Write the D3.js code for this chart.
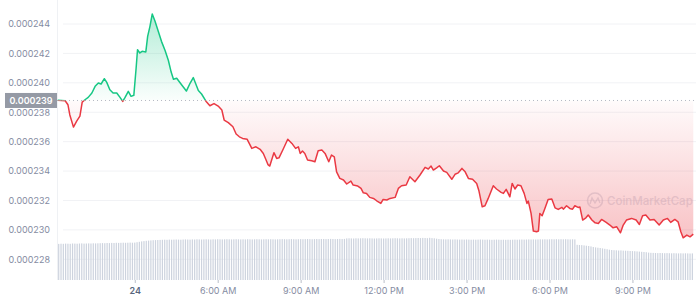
<!DOCTYPE html>
<html lang="en">
<head>
<meta charset="UTF-8">
<title>Price chart</title>
<script src="https://cdn.jsdelivr.net/npm/d3@7"></script>
<style>
  body { margin: 0; background: #fff; }
  svg { display: block; font-family: Inter, "Noto Sans", sans-serif; }
</style>
</head>
<body>
<script>

var w = 696, h = 300;

// price samples
var times = [
  "00:13","00:29","00:35","00:39","00:47","00:54","01:01","01:06","01:12","01:19",
  "01:27","01:34","01:41","01:47","01:54","01:59","02:06","02:13","02:21","02:28",
  "02:34","02:39","02:46","02:52","02:58","03:03","03:06","03:11","03:16","03:24",
  "03:28","03:33","03:38","03:44","03:51","03:58","04:06","04:13","04:19","04:24",
  "04:31","04:42","04:52","05:00","05:07","05:18","05:25","05:35","05:43","05:52",
  "06:01","06:09","06:14","06:23","06:33","06:40","06:47","06:54","07:04","07:14",
  "07:23","07:32","07:39","07:45","07:49","07:53","08:02","08:08","08:13","08:22",
  "08:32","08:41","08:49","08:55","08:59","09:04","09:09","09:15","09:24","09:31",
  "09:38","09:46","09:53","10:01","10:07","10:13","10:18","10:25","10:33","10:40",
  "10:49","10:54","11:04","11:11","11:16","11:23","11:30","11:38","11:45","11:54",
  "11:59","12:07","12:14","12:25","12:32","12:39","12:49","12:57","13:08","13:19",
  "13:30","13:37","13:43","13:48","13:55","14:01","14:10","14:17","14:28","14:35",
  "14:42","14:50","14:57","15:04","15:13","15:22","15:27","15:34","15:40","15:47",
  "15:58","16:05","16:15","16:20","16:26","16:34","16:39","16:45","16:51","16:58",
  "17:05","17:11","17:14","17:20","17:25","17:32","17:36","17:39","17:44","17:50",
  "17:57","18:05","18:12","18:19","18:27","18:30","18:37","18:44","18:50","18:55",
  "19:02","19:06","19:12","19:19","19:24","19:32","19:39","19:46","19:53","20:03",
  "20:11","20:18","20:26","20:34","20:40","20:47","20:58","21:08","21:15","21:22",
  "21:29","21:38","21:47","21:58","22:07","22:16","22:23","22:32","22:39","22:45",
  "22:50","22:58","23:05","23:12"
];

var prices = [
  0.00023881,0.00023878,0.00023851,0.00023783,0.00023699,0.00023740,0.00023774,0.00023869,0.00023885,0.00023901,
  0.00023931,0.00023976,0.00023999,0.00023992,0.00024028,0.00024005,0.00023953,0.00023931,0.00023931,0.00023901,
  0.00023874,0.00023901,0.00023942,0.00023908,0.00023915,0.00024101,0.00024225,0.00024203,0.00024214,0.00024210,
  0.00024316,0.00024384,0.00024468,0.00024418,0.00024350,0.00024282,0.00024218,0.00024152,0.00024073,0.00024024,
  0.00024031,0.00023985,0.00023944,0.00023997,0.00024036,0.00023948,0.00023924,0.00023873,0.00023844,0.00023859,
  0.00023842,0.00023815,0.00023747,0.00023729,0.00023701,0.00023652,0.00023633,0.00023622,0.00023616,0.00023554,
  0.00023565,0.00023548,0.00023520,0.00023475,0.00023444,0.00023434,0.00023525,0.00023486,0.00023490,0.00023548,
  0.00023616,0.00023588,0.00023554,0.00023565,0.00023520,0.00023536,0.00023520,0.00023475,0.00023470,0.00023463,
  0.00023538,0.00023543,0.00023520,0.00023463,0.00023509,0.00023497,0.00023395,0.00023350,0.00023339,0.00023312,
  0.00023332,0.00023305,0.00023298,0.00023282,0.00023252,0.00023248,0.00023221,0.00023214,0.00023198,0.00023180,
  0.00023207,0.00023203,0.00023214,0.00023221,0.00023282,0.00023300,0.00023305,0.00023361,0.00023327,0.00023373,
  0.00023425,0.00023414,0.00023434,0.00023407,0.00023422,0.00023436,0.00023400,0.00023391,0.00023344,0.00023378,
  0.00023388,0.00023418,0.00023395,0.00023350,0.00023344,0.00023316,0.00023264,0.00023157,0.00023164,0.00023214,
  0.00023300,0.00023278,0.00023255,0.00023248,0.00023276,0.00023225,0.00023316,0.00023278,0.00023305,0.00023300,
  0.00023248,0.00023180,0.00023196,0.00023112,0.00022992,0.00022987,0.00022992,0.00023112,0.00023096,0.00023146,
  0.00023207,0.00023210,0.00023150,0.00023139,0.00023153,0.00023141,0.00023164,0.00023146,0.00023141,0.00023164,
  0.00023153,0.00023155,0.00023067,0.00023082,0.00023101,0.00023067,0.00023048,0.00023044,0.00023071,0.00023051,
  0.00023033,0.00023014,0.00023021,0.00022980,0.00023033,0.00023067,0.00023078,0.00023067,0.00023037,0.00023096,
  0.00023101,0.00023067,0.00023071,0.00023033,0.00023067,0.00023078,0.00023051,0.00023071,0.00023055,0.00022987,
  0.00022946,0.00022965,0.00022953,0.00022971
];

var openPrice = 0.0002388;

// 5 minute volume bars from 00:15, no scale shown on the chart
var volStart = "00:15";
var volumes = [
  36.1,36.3,36.2,36.4,36.3,36.2,36.5,36.4,36.3,36.5,36.6,36.4,36.5,36.6,36.5,36.7,36.6,36.7,
  36.8,36.9,36.8,37.0,36.9,37.1,37.0,37.2,37.1,37.2,37.3,37.2,37.3,37.4,37.3,37.4,
  37.8,38.2,38.6,38.9,39.2,39.4,39.6,39.8,39.9,40.0,40.1,
  40.2,40.3,40.2,40.4,40.3,40.4,40.5,40.4,40.3,40.5,
  40.6,40.5,40.4,40.6,40.5,40.7,40.6,40.5,40.6,40.7,
  40.6,40.5,40.7,40.6,40.8,40.7,40.6,40.7,40.8,40.7,
  40.6,40.7,40.8,40.7,40.6,40.7,40.6,40.8,40.7,40.6,
  40.7,40.8,40.7,40.6,40.7,40.8,40.7,40.8,40.7,40.6,
  40.7,40.8,40.9,40.8,40.7,40.8,40.9,40.8,40.7,40.8,
  40.9,40.8,40.9,41.0,40.9,40.8,40.9,41.0,40.9,41.0,
  41.0,40.9,41.0,41.1,41.0,40.9,41.0,41.1,41.0,41.1,
  41.6,41.7,41.6,41.5,41.7,41.6,41.7,41.8,41.7,41.6,
  41.7,41.6,41.5,41.6,41.7,41.6,41.5,41.6,41.7,41.6,
  41.7,41.8,41.7,41.6,41.7,41.6,41.7,41.8,41.9,41.8,
  41.9,42.0,41.9,42.1,42.0,41.8,42.2,41.9,41.7,41.3,41.0,
  40.8,40.7,40.6,40.7,40.6,40.5,40.6,40.5,40.4,40.5,
  40.4,40.5,40.4,40.3,40.4,40.3,40.4,40.5,40.4,40.3,
  40.4,40.3,40.2,40.3,40.4,40.3,40.2,40.3,40.2,40.3,
  40.2,40.3,40.4,40.3,40.4,40.5,40.4,40.5,40.6,40.5,
  40.6,40.5,40.6,40.7,40.6,40.7,40.6,40.7,40.8,40.7,
  40.8,40.7,40.8,40.7,40.8,40.7,40.6,40.7,40.6,
  35.2,35.0,34.9,
  34.6,34.3,34.0,33.6,
  33.0,32.6,32.3,32.0,31.6,31.2,30.8,
  30.3,30.0,29.8,29.7,29.5,29.6,29.4,29.3,29.2,29.0,28.9,28.8,28.6,28.4,28.2,28.0,27.8,
  27.4,27.2,27.1,27.0,26.9,27.0,26.9,26.8,26.9,26.8,26.7,26.8,26.7,26.6,26.7,26.6,26.7,26.6,26.5,26.6
];

var yTicks = [0.000228, 0.000230, 0.000232, 0.000234, 0.000236, 0.000238, 0.000240, 0.000242, 0.000244];
var xTickTimes = ["03:00", "06:00", "09:00", "12:00", "15:00", "18:00", "21:00"];
var xTickLabels = ["24", "6:00 AM", "9:00 AM", "12:00 PM", "3:00 PM", "6:00 PM", "9:00 PM"];

var green = "#16c784", red = "#ea3943";

var parse = d3.timeParse("%H:%M");
var day0 = parse("00:00");

var data = times.map(function (t, i) { return { t: parse(t), p: prices[i] }; });
var vols = volumes.map(function (v, i) {
  return { t: d3.timeMinute.offset(parse(volStart), 5 * i), v: v };
});

var x = d3.scaleTime()
  .domain([day0, d3.timeHour.offset(day0, 24)])
  .range([51.8, 51.8 + 27.65 * 24]);
var y = d3.scaleLinear().domain([0.000228, 0.000244]).range([259.3, 24]);
var yv = d3.scaleLinear().domain([0, 40]).range([280, 240]);

var yBase = y(openPrice);

var svg = d3.select("body").append("svg").attr("width", w).attr("height", h);

var defs = svg.append("defs");
var gUp = defs.append("linearGradient").attr("id", "gUp")
  .attr("gradientUnits", "userSpaceOnUse").attr("x1", 0).attr("x2", 0)
  .attr("y1", y(0.000245)).attr("y2", yBase);
gUp.append("stop").attr("offset", 0).attr("stop-color", green).attr("stop-opacity", 0.34);
gUp.append("stop").attr("offset", 1).attr("stop-color", green).attr("stop-opacity", 0.02);
var gDown = defs.append("linearGradient").attr("id", "gDown")
  .attr("gradientUnits", "userSpaceOnUse").attr("x1", 0).attr("x2", 0)
  .attr("y1", yBase).attr("y2", y(0.000229));
gDown.append("stop").attr("offset", 0).attr("stop-color", red).attr("stop-opacity", 0.02);
gDown.append("stop").attr("offset", 1).attr("stop-color", red).attr("stop-opacity", 0.32);

defs.append("clipPath").attr("id", "above").append("rect")
  .attr("x", 0).attr("y", 0).attr("width", w).attr("height", yBase);
defs.append("clipPath").attr("id", "below").append("rect")
  .attr("x", 0).attr("y", yBase).attr("width", w).attr("height", h - yBase);

// grid
svg.append("g").selectAll("line").data(yTicks).enter().append("line")
  .attr("x1", 63).attr("x2", w)
  .attr("y1", function (d) { return y(d); }).attr("y2", function (d) { return y(d); })
  .attr("stroke", "#f1f2f5").attr("stroke-width", 1);

svg.append("line").attr("x1", 57.5).attr("x2", 57.5).attr("y1", 0).attr("y2", 280)
  .attr("stroke", "#eff1f4");

// y axis labels
var yAxis = svg.append("g").attr("transform", "translate(55,0)")
  .call(d3.axisLeft(y).tickValues(yTicks).tickFormat(d3.format(".6f")).tickSize(0).tickPadding(5));
yAxis.select(".domain").remove();
yAxis.selectAll("text").attr("fill", "#858ca2").attr("font-size", 9)
  .attr("font-family", "Inter, sans-serif");

// volume bars
svg.append("g").selectAll("rect").data(vols).enter().append("rect")
  .attr("x", function (d) { return x(d.t) - 0.6; })
  .attr("width", 1.2)
  .attr("y", function (d) { return yv(d.v); })
  .attr("height", function (d) { return yv(0) - yv(d.v); })
  .attr("fill", "#cdd3de");

// watermark
var wm = svg.append("g").attr("opacity", 0.55);
wm.append("circle").attr("cx", 595).attr("cy", 200.5).attr("r", 7.5)
  .attr("fill", "none").attr("stroke", "#c9cfdb").attr("stroke-width", 1.6);
wm.append("path").attr("d", "M590,204 L592,198 L595,203 L598,198 L600,203")
  .attr("fill", "none").attr("stroke", "#c9cfdb").attr("stroke-width", 1.4);
wm.append("text").attr("x", 607).attr("y", 204.5).attr("font-size", 11.5)
  .attr("font-weight", 500).attr("fill", "#c9cfdb").text("CoinMarketCap");

// area + line
var area = d3.area()
  .x(function (d) { return x(d.t); })
  .y0(yBase)
  .y1(function (d) { return y(d.p); });
var line = d3.line()
  .x(function (d) { return x(d.t); })
  .y(function (d) { return y(d.p); });

svg.append("path").datum(data).attr("d", area).attr("fill", "url(#gUp)").attr("clip-path", "url(#above)");
svg.append("path").datum(data).attr("d", area).attr("fill", "url(#gDown)").attr("clip-path", "url(#below)");

// dotted open line
svg.append("line").attr("x1", 57).attr("x2", w).attr("y1", yBase).attr("y2", yBase)
  .attr("stroke", "#b4b9c3").attr("stroke-width", 1).attr("stroke-dasharray", "1,3");

svg.append("path").datum(data).attr("d", line).attr("fill", "none")
  .attr("stroke", green).attr("stroke-width", 1.5).attr("stroke-linejoin", "round")
  .attr("clip-path", "url(#above)");
svg.append("path").datum(data).attr("d", line).attr("fill", "none")
  .attr("stroke", red).attr("stroke-width", 1.5).attr("stroke-linejoin", "round")
  .attr("clip-path", "url(#below)");

// open price tag
svg.append("rect").attr("x", 5).attr("y", yBase - 7.5).attr("width", 52).attr("height", 15)
  .attr("fill", "#959aa5");
svg.append("text").attr("x", 31).attr("y", yBase + 3.2).attr("text-anchor", "middle")
  .attr("font-size", 9).attr("font-weight", 600).attr("fill", "#fff")
  .text(d3.format(".6f")(0.000239));

// x axis
var xAxis = svg.append("g").attr("transform", "translate(0,280)")
  .call(d3.axisBottom(x)
    .tickValues(xTickTimes.map(function (t) { return parse(t); }))
    .tickFormat(function (d, i) { return xTickLabels[i]; })
    .tickSize(3).tickPadding(5));
xAxis.select(".domain").remove();
xAxis.selectAll("line").attr("stroke", "#b9bec8");
xAxis.selectAll("text").attr("fill", "#858ca2").attr("font-size", 9)
  .attr("font-family", "Inter, sans-serif");
xAxis.selectAll("text").filter(function (d, i) { return i === 0; })
  .attr("fill", "#58667e").attr("font-weight", 600);

</script>
</body>
</html>
